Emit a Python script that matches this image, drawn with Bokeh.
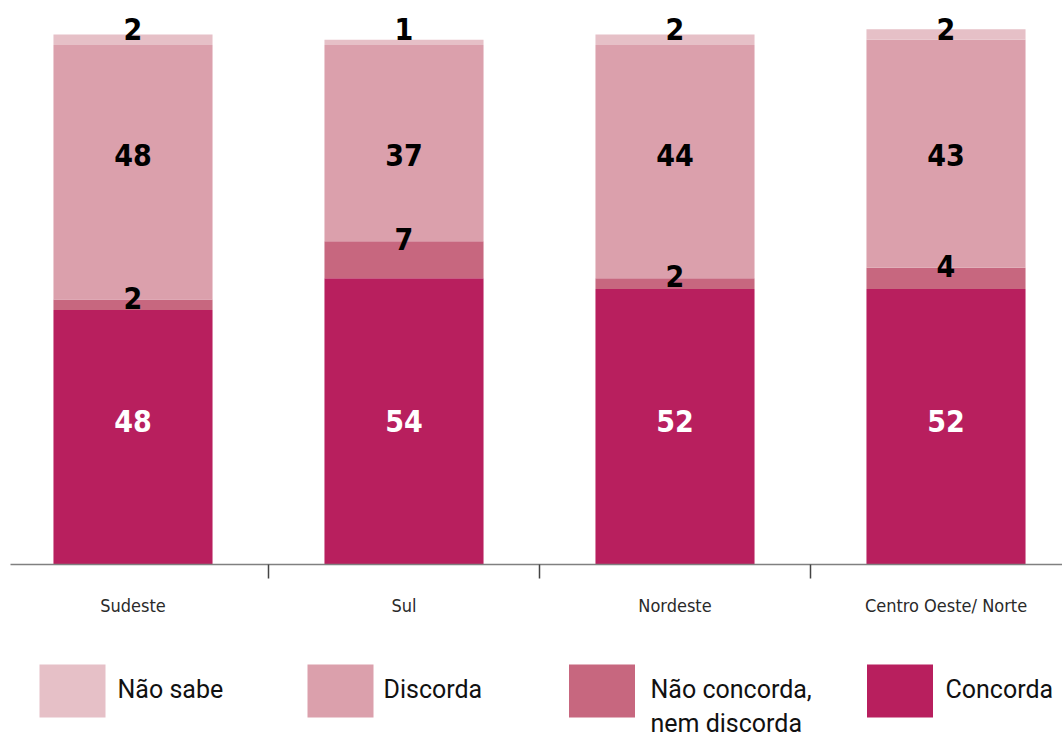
from bokeh.plotting import figure
from bokeh.models import ColumnDataSource, Range1d, FixedTicker
from bokeh.layouts import column
from bokeh.core.properties import value
from bokeh.embed import file_html
from bokeh.resources import INLINE

# ---- data ----
regions = ["Sudeste", "Sul", "Nordeste", "Centro Oeste/ Norte"]
concorda = [48, 54, 52, 52]
nem = [2, 7, 2, 4]
discorda = [48, 37, 44, 43]
nao_sabe = [2, 1, 2, 2]
legend_order = ["Não sabe", "Discorda", "Não concorda,\nnem discorda", "Concorda"]

# ---- styles ----
C_CONC = "#B81F5E"
C_NEM = "#C7677F"
C_DISC = "#DBA0AC"
C_NS = "#E6C0C7"
colors = [C_CONC, C_NEM, C_DISC, C_NS]
legend_colors = [C_NS, C_DISC, C_NEM, C_CONC]
COND = "DejaVu Sans Condensed"

xs = list(range(1, len(regions) + 1))
src = ColumnDataSource(dict(x=xs, Concorda=concorda, Nem=nem, Discorda=discorda, NaoSabe=nao_sabe))

px_per_unit = 5.3
frame_h = 564
p = figure(width=1062, height=640, output_backend="svg", toolbar_location=None,
           x_range=Range1d(1 + (10 - 132.5) / 271, 1 + (1062 - 132.5) / 271),
           y_range=Range1d(0, frame_h / px_per_unit),
           min_border_left=10, min_border_right=0, min_border_top=0, min_border_bottom=76)
p.outline_line_color = None
p.xgrid.visible = False
p.ygrid.visible = False
p.yaxis.visible = False
p.background_fill_color = "white"
p.border_fill_color = "white"

p.vbar_stack(["Concorda", "Nem", "Discorda", "NaoSabe"], x="x", width=0.587,
             color=colors, line_color=None, source=src)

ax = p.xaxis[0]
ax.ticker = FixedTicker(ticks=xs, minor_ticks=[i + 0.5 for i in xs[:-1]])
ax.major_label_overrides = {i: r for i, r in zip(xs, regions)}
ax.major_tick_out = 0
ax.major_tick_in = 0
ax.minor_tick_out = 14
ax.minor_tick_in = 0
ax.minor_tick_line_color = "#444444"
ax.minor_tick_line_width = 1.5
ax.axis_line_color = "#808080"
ax.axis_line_width = 1.5
ax.major_label_standoff = 16
ax.major_label_text_font = COND
ax.major_label_text_font_size = "18px"
ax.major_label_text_color = "#2a2a2a"

# value labels
lab_font = value(COND)
def labels(xv, yv, txt, color, yoff=0):
    p.text(x=xv, y=yv, text=txt, text_font=lab_font, text_font_style="bold",
           text_font_size="30px", text_align="center", text_baseline="middle",
           text_color=color, y_offset=yoff)

n = len(xs)
conc_mid = sum(c / 2 for c in concorda) / n
disc_mid = sum(c + m + d / 2 for c, m, d in zip(concorda, nem, discorda)) / n
nem_top = [c + m for c, m in zip(concorda, nem)]
labels(xs, [conc_mid] * n, [str(v) for v in concorda], "white", -7)
labels(xs, [disc_mid] * n, [str(v) for v in discorda], "black", -3)
labels(xs, nem_top, [str(v) for v in nem], "black", -2)
labels(xs, [100] * n, [str(v) for v in nao_sabe], "black", -6)

# ---- legend (frame aligned with the chart frame, starting at x=10) ----
lg = figure(width=1062, height=98, output_backend="svg", toolbar_location=None,
            x_range=Range1d(10, 1062), y_range=Range1d(98, 0),
            x_axis_type=None, y_axis_type=None,
            min_border=0, min_border_left=10, min_border_right=0,
            min_border_top=0, min_border_bottom=0)
lg.outline_line_color = None
lg.grid.visible = False
lg.background_fill_color = "white"
lg.border_fill_color = "white"
sq_x = [72, 340, 601.5, 899.5]
tx_x = [117, 383, 650, 945]
lg.rect(x=sq_x, y=[50.5] * 4, width=66, height=53, color=legend_colors, line_color=None)
lg.text(x=tx_x, y=[34] * 4, text=legend_order, text_font=value("Roboto"),
        text_font_size="25px", text_baseline="top", text_align="left",
        text_color="#111111", text_line_height=1.2)

layout = column(p, lg, spacing=0)
open("out.html", "w").write(file_html(layout, INLINE))
